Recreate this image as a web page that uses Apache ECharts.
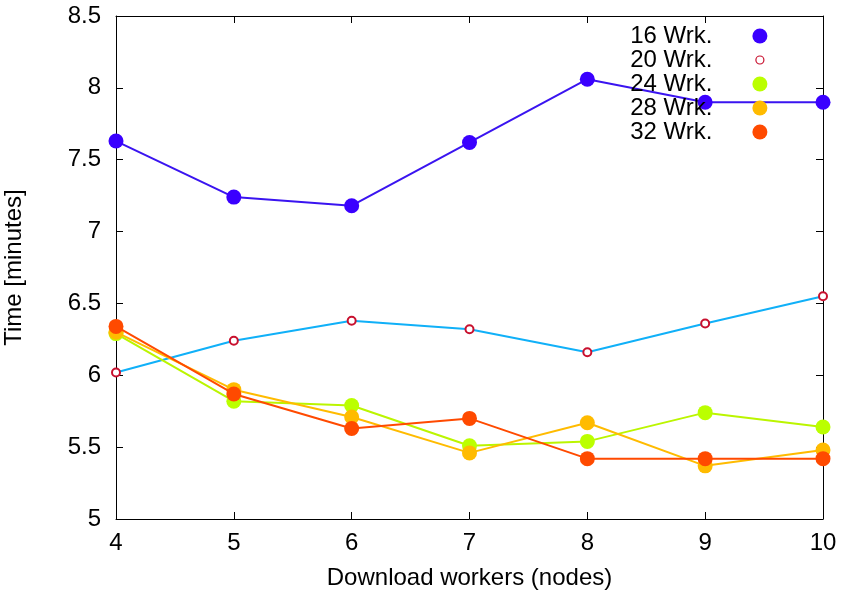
<!DOCTYPE html>
<html><head><meta charset="utf-8">
<script src="https://cdn.jsdelivr.net/npm/echarts@6/dist/echarts.min.js"></script>
<style>html,body{margin:0;padding:0;background:#fff}#c{width:841px;height:595px}</style>
</head><body><div id="c"></div>
<script>
const workers = [4, 5, 6, 7, 8, 9, 10];
const seriesNames = ['16 Wrk.', '20 Wrk.', '24 Wrk.', '28 Wrk.', '32 Wrk.'];
const wrk16 = [7.63, 7.24, 7.18, 7.62, 8.06, 7.90, 7.90];
const wrk20 = [6.02, 6.24, 6.38, 6.32, 6.16, 6.36, 6.55];
const wrk24 = [6.29, 5.82, 5.79, 5.51, 5.54, 5.74, 5.64];
const wrk28 = [6.30, 5.90, 5.71, 5.46, 5.67, 5.37, 5.48];
const wrk32 = [6.34, 5.87, 5.63, 5.70, 5.42, 5.42, 5.42];
const yTicks = [5, 5.5, 6, 6.5, 7, 7.5, 8, 8.5];

const values = [wrk16, wrk20, wrk24, wrk28, wrk32];
const lineColors = ['#3a14f0', '#10b0f8', '#bbf500', '#ffbb00', '#ff4a00'];
const markColors = ['#3a00ff', '#c8102e', '#bbff00', '#ffbb00', '#ff4a00'];
const FONT = 'Liberation Sans, Arial, Helvetica, sans-serif';

const pairs = v => workers.map((x, i) => [x, v[i]]);
const dotIcon = 'path://M0,0 M50,15 M35,7.5 A7.5,7.5 0 1,0 50,7.5 A7.5,7.5 0 1,0 35,7.5 Z';
const smallIcon = 'path://M0,0 M50,15 M38.5,7.5 A4,4 0 1,0 46.5,7.5 A4,4 0 1,0 38.5,7.5 Z';

const series = values.map((v, i) => ({
  name: seriesNames[i],
  type: 'line',
  data: pairs(v),
  symbol: i === 1 ? 'emptyCircle' : 'circle',
  symbolSize: i === 1 ? 8 : 15,
  showSymbol: true,
  lineStyle: { color: lineColors[i], width: 2 },
  itemStyle: i === 1 ? { color: '#c8102e', borderColor: '#c8102e', borderWidth: 1.2 } : { color: markColors[i] },
  emphasis: { disabled: true },
  z: 2 + i
}));

const axisCommon = {
  axisLine: { show: true, onZero: false, lineStyle: { color: '#000', width: 1 } },
  axisTick: { show: true, inside: true, length: 7, lineStyle: { color: '#000' } },
  splitLine: { show: false }
};

const chart = echarts.init(document.getElementById('c'), null, { renderer: 'canvas' });
chart.setOption({
  animation: false,
  backgroundColor: '#fff',
  textStyle: { fontFamily: FONT },
  grid: { left: 116, right: 18, top: 16, bottom: 76, containLabel: false, outerBoundsMode: 'none' },
  xAxis: [
    Object.assign({}, axisCommon, {
      type: 'value', min: workers[0], max: workers[workers.length - 1], interval: 1,
      name: 'Download workers (nodes)', nameLocation: 'middle', nameGap: 47,
      nameTextStyle: { fontSize: 24, color: '#000', fontFamily: FONT },
      axisLabel: { fontSize: 24, color: '#000', margin: 12, fontFamily: FONT }
    }),
    Object.assign({}, axisCommon, {
      type: 'value', position: 'top', min: workers[0], max: workers[workers.length - 1], interval: 1,
      axisLabel: { show: false }
    })
  ],
  yAxis: [
    Object.assign({}, axisCommon, {
      type: 'value', min: yTicks[0], max: yTicks[yTicks.length - 1], interval: 0.5,
      name: 'Time [minutes]', nameLocation: 'middle', nameGap: 90, nameRotate: 90,
      nameTextStyle: { fontSize: 24, color: '#000', fontFamily: FONT },
      axisLabel: { fontSize: 24, color: '#000', margin: 15, fontFamily: FONT }
    }),
    Object.assign({}, axisCommon, {
      type: 'value', position: 'right', min: yTicks[0], max: yTicks[yTicks.length - 1], interval: 0.5,
      axisLabel: { show: false }
    })
  ],
  legend: {
    orient: 'vertical',
    right: 68,
    top: 19,
    align: 'right',
    itemWidth: 50,
    itemHeight: 15,
    itemGap: 0,
    selectedMode: false,
    textStyle: { fontSize: 24, lineHeight: 24, color: '#000', fontFamily: FONT },
    data: seriesNames.map((n, i) => ({
      name: n,
      icon: i === 1 ? smallIcon : dotIcon,
      itemStyle: i === 1 ? { color: '#fff', borderColor: '#c8102e', borderWidth: 1.2 } : { color: markColors[i], borderWidth: 0 }
    }))
  },
  series: series
});
</script>
</body></html>
